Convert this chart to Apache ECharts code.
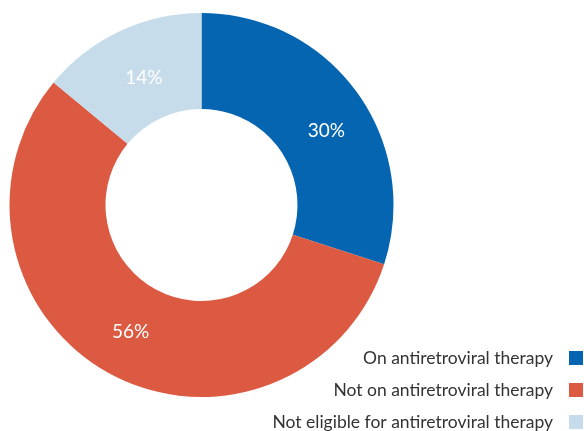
<!DOCTYPE html>
<html>
<head>
<meta charset="utf-8">
<script src="https://cdn.jsdelivr.net/npm/echarts@6/dist/echarts.min.js"></script>
<style>html,body{margin:0;padding:0;background:#fff}#c{width:584px;height:431px}</style>
</head>
<body>
<div id="c"></div>
<script>
var categories = ['On antiretroviral therapy', 'Not on antiretroviral therapy', 'Not eligible for antiretroviral therapy'];
var values = [30, 56, 14];
var colors = ['#0565b0', '#dc5a42', '#c6dcea'];
var labelOffsets = [[6, 12], [0, -2], [5, 6]];

var chart = echarts.init(document.getElementById('c'));
chart.setOption({
  animation: false,
  legend: {
    orient: 'vertical',
    right: 1,
    top: 349,
    height: 90,
    padding: 0,
    align: 'right',
    itemWidth: 14,
    itemHeight: 14,
    itemGap: 14,
    icon: 'rect',
    textStyle: { fontFamily: 'Lato', fontSize: 17.5, fontWeight: 'normal', color: '#333', padding: [0, 11, 0, 0] },
    data: categories
  },
  series: [{
    type: 'pie',
    center: [201.5, 205],
    radius: [96, 192],
    startAngle: 90,
    clockwise: true,
    avoidLabelOverlap: false,
    label: {
      show: true,
      position: 'inside',
      formatter: '{c}%',
      fontFamily: 'Lato',
      fontSize: 19,
      fontWeight: 'normal',
      color: '#fff'
    },
    labelLine: { show: false },
    emphasis: { disabled: true },
    data: categories.map(function (n, i) {
      return { name: n, value: values[i], itemStyle: { color: colors[i] }, label: { offset: labelOffsets[i] } };
    })
  }]
});
</script>
</body>
</html>
